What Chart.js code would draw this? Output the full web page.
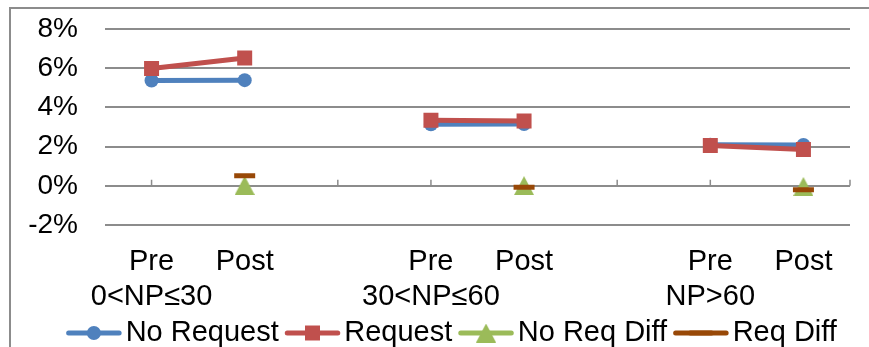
<!DOCTYPE html>
<html lang="en">
<head>
<meta charset="UTF-8">
<title>Chart</title>
<style>
  html, body { margin: 0; padding: 0; background: #fff; overflow: hidden; }
  #wrap { position: relative; width: 869px; height: 347px; }
  #frame { position: absolute; left: 9px; top: 7px; width: 900px; height: 400px; border-left: 2px solid #8c8c8c; border-top: 2px solid #8c8c8c; }
  #myChart { position: absolute; left: 0; top: 0; }
</style>
</head>
<body>
<div id="wrap">
  <div id="frame"></div>
  <canvas id="myChart" width="869" height="347"></canvas>
</div>
<script src="https://cdn.jsdelivr.net/npm/chart.js"></script>
<script>
  // categories (blank slot between groups)
  const periods = ['Pre', 'Post', '', 'Pre', 'Post', '', 'Pre', 'Post'];
  const groups = ['0<NP≤30', '', '', '30<NP≤60', '', '', 'NP>60', ''];
  // values in %
  const noRequest = [5.37, 5.39, null, 3.14, 3.15, null, 2.10, 2.08];
  const request = [5.99, 6.52, null, 3.34, 3.31, null, 2.05, 1.85];
  const noReqDiff = [null, 0.02, null, null, 0.01, null, null, -0.03];
  const reqDiff = [null, 0.51, null, null, -0.07, null, null, -0.20];
  const yTicks = [-2, 0, 2, 4, 6, 8];

  const gridColor = '#8c8c8c';
  Chart.defaults.font.family = '"Liberation Sans", Arial, sans-serif';
  Chart.defaults.color = '#000';

  // Excel-like triangle marker (box centred on the value)
  const tri = document.createElement('canvas');
  tri.width = 20;
  tri.height = 19;
  const tctx = tri.getContext('2d');
  tctx.fillStyle = '#9BBB59';
  tctx.beginPath();
  tctx.moveTo(10, 0);
  tctx.lineTo(20, 19);
  tctx.lineTo(0, 19);
  tctx.closePath();
  tctx.fill();

  // small tick marks sitting on the 0% line
  const zeroTicks = {
    id: 'zeroTicks',
    beforeDatasetsDraw(chart) {
      const { ctx, scales: { x, y } } = chart;
      const y0 = y.getPixelForValue(0);
      ctx.save();
      ctx.strokeStyle = gridColor;
      ctx.lineWidth = 1.5;
      ctx.beginPath();
      periods.forEach((p, i) => {
        if (p === 'Post') return;
        const px = x.getPixelForValue(i);
        ctx.moveTo(px, y0);
        ctx.lineTo(px, y0 - 6);
      });
      ctx.moveTo(x.right, y0);
      ctx.lineTo(x.right, y0 - 6);
      ctx.stroke();
      ctx.restore();
    }
  };

  // legend: line with the marker in the middle; legend box shifted right a bit
  const legendMarks = {
    id: 'legendMarks',
    afterLayout(chart) {
      chart.legend.left = 53;
    },
    afterDraw(chart) {
      const lg = chart.legend;
      const ctx = chart.ctx;
      lg.legendItems.forEach((item, i) => {
        const box = lg.legendHitBoxes[i];
        const ds = chart.data.datasets[item.datasetIndex];
        const cy = box.top + box.height / 2;
        ctx.save();
        ctx.strokeStyle = ds.borderColor;
        ctx.lineWidth = 5;
        ctx.lineCap = 'round';
        ctx.beginPath();
        ctx.moveTo(box.left + 2.5, cy);
        ctx.lineTo(box.left + 53, cy);
        ctx.stroke();
        ctx.fillStyle = ds.pointBackgroundColor;
        ctx.strokeStyle = ds.pointBorderColor;
        Chart.helpers.drawPoint(ctx, {
          pointStyle: ds.pointStyle,
          radius: ds.pointRadius,
          borderWidth: ds.pointBorderWidth,
          rotation: 0
        }, box.left + 27.75, cy);
        ctx.restore();
      });
    }
  };

  const ctx = document.getElementById('myChart').getContext('2d');
  const myChart = new Chart(ctx, {
    type: 'line',
    data: {
      labels: periods.map((p, i) => [p, groups[i]]),
      datasets: [{
        label: 'No Request',
        data: noRequest,
        borderColor: '#4F81BD',
        backgroundColor: '#4F81BD',
        borderWidth: 5,
        pointStyle: 'circle',
        pointRadius: 7,
        pointBackgroundColor: '#4F81BD',
        pointBorderColor: '#4F81BD',
        pointBorderWidth: 0,
        order: 4
      }, {
        label: 'Request',
        data: request,
        borderColor: '#C0504D',
        backgroundColor: '#C0504D',
        borderWidth: 5,
        pointStyle: 'rect',
        pointRadius: 10.6,
        pointBackgroundColor: '#C0504D',
        pointBorderColor: '#C0504D',
        pointBorderWidth: 0,
        order: 3
      }, {
        label: 'No Req Diff',
        data: noReqDiff,
        showLine: false,
        borderColor: '#9BBB59',
        backgroundColor: '#9BBB59',
        pointStyle: tri,
        pointRadius: 10,
        pointBackgroundColor: '#9BBB59',
        pointBorderColor: '#9BBB59',
        pointBorderWidth: 0,
        order: 2
      }, {
        label: 'Req Diff',
        data: reqDiff,
        showLine: false,
        borderColor: '#984807',
        backgroundColor: '#984807',
        pointStyle: 'line',
        pointRadius: 10.5,
        pointBackgroundColor: '#984807',
        pointBorderColor: '#984807',
        pointBorderWidth: 5,
        order: 1
      }]
    },
    options: {
      responsive: false,
      animation: false,
      devicePixelRatio: 1,
      layout: { padding: { left: 0, right: 19, top: 29, bottom: 0 } },
      plugins: {
        tooltip: { enabled: false },
        legend: {
          position: 'bottom',
          maxHeight: 34.5,
          labels: {
            font: { size: 29 },
            boxWidth: 45,
            boxHeight: 5,
            padding: 6,
            sort: (a, b) => a.datasetIndex - b.datasetIndex,
            generateLabels(chart) {
              return chart.data.datasets.map((ds, i) => ({
                text: ds.label,
                datasetIndex: i,
                fillStyle: 'rgba(0,0,0,0)',
                strokeStyle: 'rgba(0,0,0,0)',
                lineWidth: 0,
                fontColor: '#000'
              }));
            }
          }
        }
      },
      scales: {
        x: {
          offset: true,
          grid: { display: false },
          border: { display: false },
          ticks: {
            autoSkip: false,
            maxRotation: 0,
            padding: 12,
            font: { size: 29, lineHeight: 1.2 }
          },
          afterFit(scale) { scale.height = 87.5; }
        },
        y: {
          min: yTicks[0],
          max: yTicks[yTicks.length - 1],
          grid: {
            color: gridColor,
            lineWidth: 2,
            drawTicks: true,
            tickLength: 27,
            tickColor: 'rgba(0,0,0,0)'
          },
          border: { display: false },
          ticks: {
            autoSkip: false,
            stepSize: yTicks[1] - yTicks[0],
            padding: 0,
            font: { size: 28 },
            callback: (v) => v + '%'
          },
          afterFit(scale) { scale.width = 105; }
        }
      }
    },
    plugins: [zeroTicks, legendMarks]
  });
</script>
</body>
</html>
